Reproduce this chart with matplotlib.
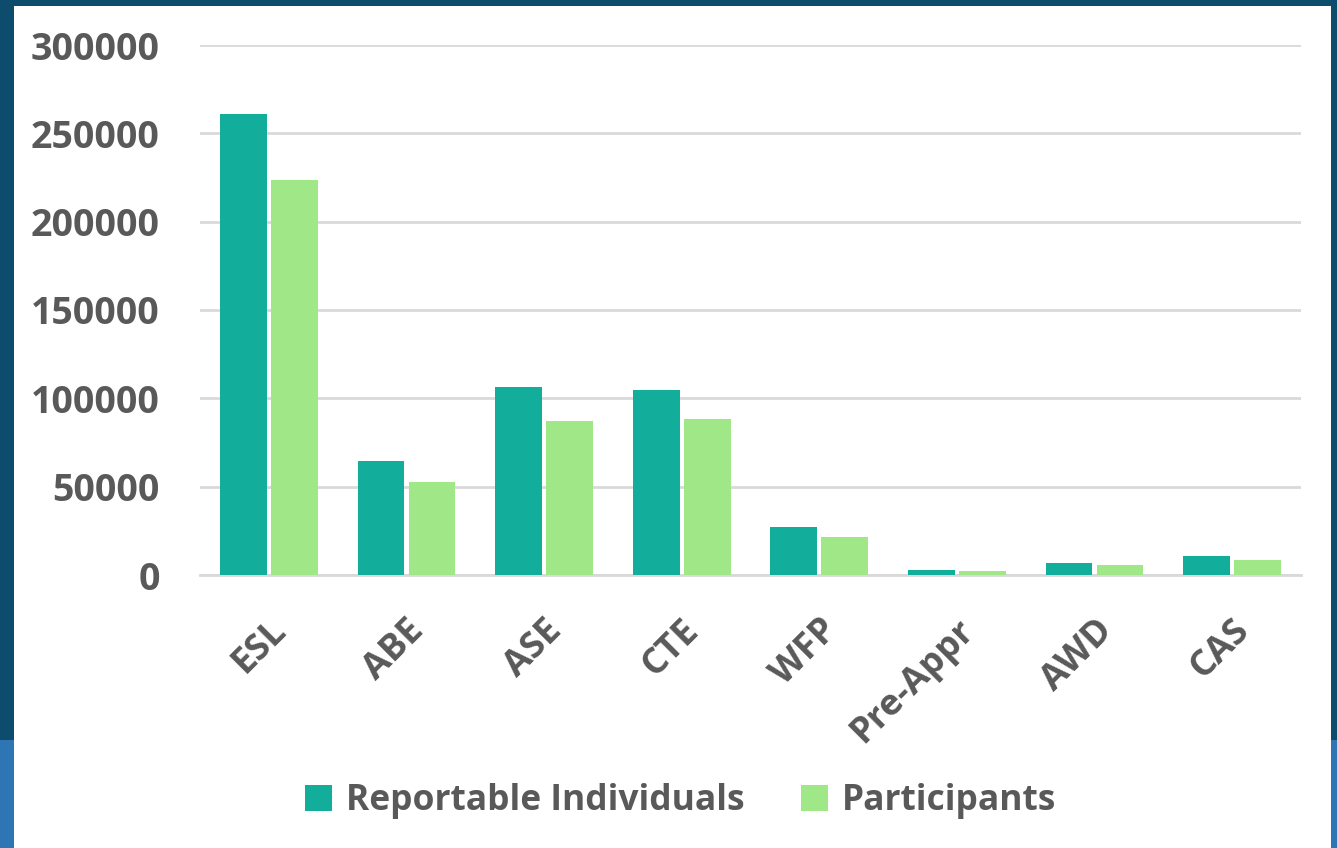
import matplotlib.pyplot as plt
from matplotlib.patches import Rectangle
import numpy as np

categories = ['ESL', 'ABE', 'ASE', 'CTE', 'WFP', 'Pre-Appr', 'AWD', 'CAS']
reportable = [261000, 64500, 106500, 104700, 27200, 2800, 6800, 10800]
participants = [223600, 52600, 87200, 88300, 21500, 2300, 5700, 8500]

teal = '#13ae9b'
green = '#a0e887'
gray = '#595959'

plt.rcParams['font.family'] = ['Open Sans', 'DejaVu Sans']
plt.rcParams['font.weight'] = 'bold'

fig = plt.figure(figsize=(13.37, 8.48), dpi=100)
fig.patch.set_facecolor('white')

# frame strips around the slide
W, H = 1337, 848
def strip(x, y, w, h, c):
    fig.add_artist(Rectangle((x / W, 1 - (y + h) / H), w / W, h / H,
                             transform=fig.transFigure, color=c, lw=0, zorder=0))
strip(0, 0, W, 6, '#0e4c6e')
strip(0, 0, 14, 740, '#0e4c6e')
strip(1331, 0, 6, 740, '#0e4c6e')
strip(0, 740, 14, 108, '#2e75b6')
strip(1331, 740, 6, 108, '#2e75b6')

ax = fig.add_axes([200 / W, 1 - 575 / H, 1101 / W, 530 / H])
x = np.arange(len(categories))
w = 0.34
ax.bar(x - w / 2 - 0.015, reportable, w, color=teal, label='Reportable Individuals', zorder=3)
ax.bar(x + w / 2 + 0.015, participants, w, color=green, label='Participants', zorder=3)

ax.set_xlim(-0.5, len(categories) - 0.5)
ax.set_ylim(0, 300000)
ax.set_yticks(range(0, 300001, 50000))
ax.yaxis.grid(True, color='#d9d9d9', lw=2, zorder=0)
ax.set_axisbelow(True)
for s in ['top', 'right', 'left']:
    ax.spines[s].set_visible(False)
ax.spines['bottom'].set_color('#d9d9d9')
ax.spines['bottom'].set_linewidth(2)
ax.tick_params(axis='y', length=0, pad=29, labelsize=27, labelcolor=gray)
ax.tick_params(axis='x', length=0, pad=27, labelsize=26, labelcolor=gray)
ax.set_xticks(x)
ax.set_xticklabels(categories, rotation=45, ha='right', rotation_mode='anchor')
for t in ax.get_yticklabels() + ax.get_xticklabels():
    t.set_fontweight('bold')

leg = fig.legend(loc='center', bbox_to_anchor=(681 / W, 1 - 801 / H), ncol=2,
                 frameon=False, fontsize=25.5, handlelength=0.75, handleheight=0.75,
                 columnspacing=1.6, handletextpad=0.4)
for t in leg.get_texts():
    t.set_color(gray)
    t.set_fontweight('bold')

fig.savefig('out.png', dpi=100, facecolor='white')
